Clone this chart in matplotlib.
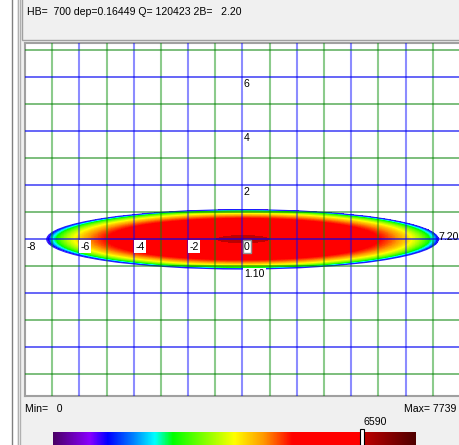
import numpy as np
import matplotlib
matplotlib.use('Agg')
import matplotlib.pyplot as plt
from matplotlib.colors import LinearSegmentedColormap
from matplotlib.patches import Rectangle, Ellipse

W, H = 460, 445

# header values
hb = 700
dep = 0.16449
q = 120423
two_b = 2.20

# contact patch and pressure scale
half_len = 7.20
half_wid = 1.10
p_min = 0
p_max = 7739
p_mark = 6590
p_peak = 6640

x_labels = [-8, -6, -4, -2, 0]
y_labels = [2, 4, 6]

# colour scale (fraction of p_max -> colour)
cmap_pos = [0.0, 0.10, 0.15, 0.22, 0.28, 0.33, 0.50, 0.58, 0.66,
            p_mark / p_max, p_mark / p_max + 0.002, 1.0]
cmap_col = ['#4b0066', '#8a00ff', '#0000ff', '#0080ff', '#00ffff', '#00ff00',
            '#ffff00', '#ff9900', '#ff0000', '#ff0000', '#c00000', '#500000']
cmap = LinearSegmentedColormap.from_list('contact', list(zip(cmap_pos, cmap_col)))

plt.rcParams['font.family'] = ['Liberation Sans', 'DejaVu Sans']
FS = 7.6


def px(x, y, w, h):
    # pixel box (top-left origin) -> figure fraction
    return [x / W, 1 - (y + h) / H, w / W, h / H]


fig = plt.figure(figsize=(W / 100, H / 100), dpi=100)
fig.patch.set_facecolor('white')

# window frame drawn in pixel coords
bg = fig.add_axes([0, 0, 1, 1])
bg.set_xlim(0, W)
bg.set_ylim(H, 0)
bg.axis('off')
bg.axvline(12, color='#808080', lw=1)
bg.add_patch(Rectangle((17, 0), 5, H, fc='#e8e8e8', ec='none'))
bg.axvline(18.5, color='#b0b0b0', lw=0.8)
bg.axvline(20.5, color='#b0b0b0', lw=0.8)
bg.add_patch(Rectangle((22, 0), W - 22, H, fc='#f0f0f0', ec='none'))
bg.add_patch(Rectangle((22.5, -2), W, 42, fc='#f0f0f0', ec='#a0a0a0', lw=1))
bg.text(27, 12, 'HB=  %d dep=%.5f Q= %d 2B=   %.2f' % (hb, dep, q, two_b),
        fontsize=FS, va='center', ha='left')
bg.text(25, 409, 'Min=   %d' % p_min, fontsize=FS, va='center', ha='left')
bg.text(456, 409, 'Max= %d' % p_max, fontsize=FS, va='center', ha='right')

# main contact plot
ax = fig.add_axes(px(25, 43, 435, 353))
ax.set_xlim(-8, 8)
ax.set_ylim(-5.80, 7.27)
ax.set_facecolor('white')
ax.set_xticks([])
ax.set_yticks([])
for s in ['left', 'top', 'bottom']:
    ax.spines[s].set_color('#a0a0a0')
    ax.spines[s].set_linewidth(1.5)
ax.spines['right'].set_visible(False)

gx = np.linspace(-half_len, half_len, 900)
gy = np.linspace(-half_wid, half_wid, 240)
X, Y = np.meshgrid(gx, gy)
r2 = (X / half_len) ** 2 + (Y / half_wid) ** 2
P = p_peak * np.clip(1 - r2, 0, None) ** 0.4
P = np.ma.masked_where(r2 >= 1, P)
ax.imshow(P, extent=(-half_len, half_len, -half_wid, half_wid), origin='lower',
          aspect='auto', cmap=cmap, vmin=p_min, vmax=p_max,
          interpolation='nearest', zorder=1)
ax.add_patch(Ellipse((0, 0), 2 * half_len, 2 * half_wid, fill=False,
                     ec='#2020ff', lw=0.8, zorder=2))

# grid: blue on even units, green on odd
for k in range(-7, 8):
    c = (0, 0, 1, 0.45) if k % 2 == 0 else (0, 0.55, 0, 0.45)
    ax.axvline(k, color=c, lw=1.5, zorder=3)
for k in range(-5, 8):
    c = (0, 0, 0.95, 0.7) if k % 2 == 0 else (0, 0.5, 0, 0.6)
    ax.axhline(k, color=c, lw=1.2, zorder=3)

box = dict(boxstyle='square,pad=0.12', fc='white', ec='none')
for v in x_labels:
    b = dict(box, ec='#909090') if v == 0 else box
    ax.text(v + 0.05, -0.08, '%d' % v, fontsize=FS, ha='left', va='top',
            bbox=b if v != -8 else None, zorder=5)
for v in y_labels:
    ax.text(0.05, v - 0.08, '%d' % v, fontsize=FS, ha='left', va='top',
            bbox=box, zorder=5)
ax.text(7.22, 0.1, '%.2f' % half_len, fontsize=FS, ha='left', va='center', zorder=5)
ax.text(0.05, -half_wid, '%.2f' % half_wid, fontsize=FS, ha='left', va='top',
        bbox=box, zorder=5)

# colour bar with marker
cb = fig.add_axes(px(53, 432, 363, 16))
grad = np.linspace(p_min, p_max, 512).reshape(1, -1)
cb.imshow(grad, extent=(p_min, p_max, 0, 1), aspect='auto', cmap=cmap,
          vmin=p_min, vmax=p_max)
cb.set_xlim(p_min, p_max)
cb.set_ylim(0, 1)
cb.axis('off')
cb.add_patch(Rectangle((p_mark - 50, -0.1), 100, 1.3, fc='white', ec='black',
                       lw=0.8, clip_on=False))
bg.text(53 + 363 * p_mark / p_max + 1, 422, '%d' % p_mark, fontsize=FS,
        ha='left', va='center')

fig.savefig('out.png', dpi=100, facecolor=fig.get_facecolor())
